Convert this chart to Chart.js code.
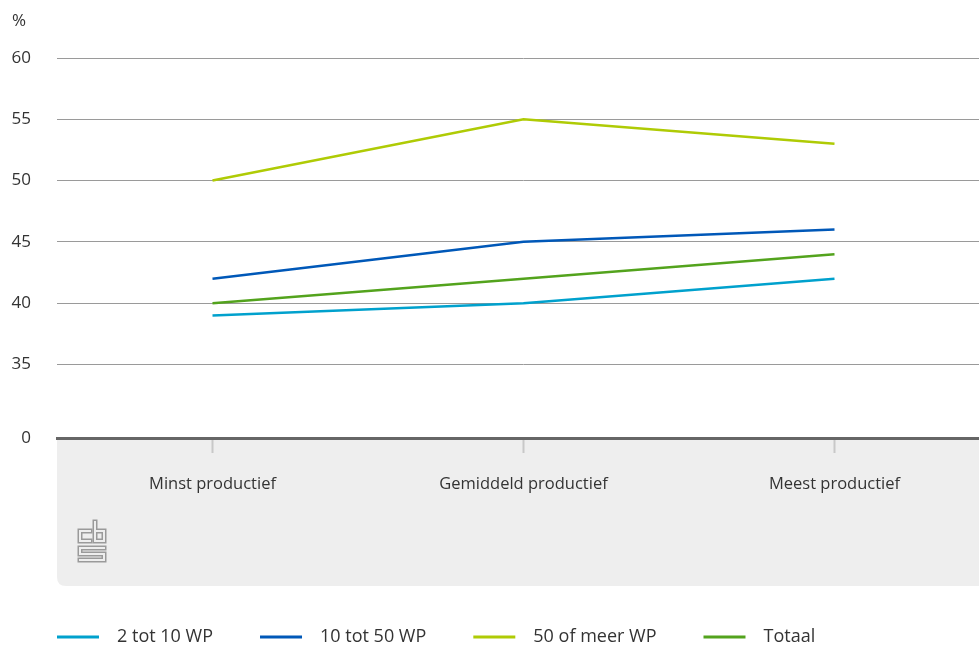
<!DOCTYPE html>
<html>
<head>
<meta charset="utf-8">
<script src="https://cdn.jsdelivr.net/npm/chart.js@4.4.0/dist/chart.umd.min.js"></script>
<style>
  html, body { margin: 0; padding: 0; background: #fff; overflow: hidden; }
  #wrap { width: 990px; height: 645px; position: relative; }
</style>
</head>
<body>
<div id="wrap"><canvas id="chart"></canvas></div>
<script>
// data
const categories = ['Minst productief', 'Gemiddeld productief', 'Meest productief'];
const seriesNames = ['2 tot 10 WP', '10 tot 50 WP', '50 of meer WP', 'Totaal'];
const small = [39, 40, 42];
const medium = [42, 45, 46];
const large = [50, 55, 53];
const total = [40, 42, 44];
const yTicks = [35, 40, 45, 50, 55, 60];
const yBreak = 29; // value where the axis is cut, shown as 0

const colors = ['#00a1cd', '#0058b8', '#afcb05', '#53a31d'];
const FONT = '"Open Sans", "Noto Sans", sans-serif';

// outlined stroke: thick grey, then hollowed out with the band colour
function outlined(ctx, pts) {
  [[5, '#9a9a9a'], [2, '#eeeeee']].forEach(([w, c]) => {
    ctx.lineWidth = w;
    ctx.strokeStyle = c;
    ctx.lineCap = 'square';
    ctx.lineJoin = 'miter';
    ctx.beginPath();
    pts.forEach((p, i) => (i ? ctx.lineTo(p[0], p[1]) : ctx.moveTo(p[0], p[1])));
    ctx.stroke();
  });
}

// grey band under the axis plus the cbs logo, and the % unit
const backdrop = {
  id: 'backdrop',
  beforeDraw(chart) {
    const ctx = chart.ctx;
    const left = chart.chartArea.left;
    const top = chart.chartArea.bottom;
    const bottom = 586;
    const right = chart.width;
    const r = 9;
    ctx.save();
    ctx.fillStyle = '#eeeeee';
    ctx.beginPath();
    ctx.moveTo(left, top);
    ctx.lineTo(right, top);
    ctx.lineTo(right, bottom);
    ctx.lineTo(left + r, bottom);
    ctx.quadraticCurveTo(left, bottom, left, bottom - r);
    ctx.closePath();
    ctx.fill();

    // logo: c, b and the s below
    outlined(ctx, [[90, 531], [80, 531], [80, 541], [90, 541]]);
    outlined(ctx, [[95, 522], [95, 541], [104, 541], [104, 531], [95, 531]]);
    outlined(ctx, [[104, 548], [80, 548], [80, 554], [104, 554], [104, 560], [80, 560]]);

    ctx.fillStyle = '#333';
    ctx.font = '17px ' + FONT;
    ctx.textAlign = 'left';
    ctx.textBaseline = 'middle';
    ctx.fillText('%', 12, 21);
    ctx.restore();
  },
  afterDraw(chart) {
    // legend: line sample, label, fixed gaps
    const ctx = chart.ctx;
    ctx.save();
    ctx.font = '18px ' + FONT;
    ctx.textBaseline = 'middle';
    ctx.textAlign = 'left';
    let x = 57;
    const y = 637;
    chart.data.datasets.forEach(ds => {
      ctx.strokeStyle = ds.borderColor;
      ctx.lineWidth = 3;
      ctx.beginPath();
      ctx.moveTo(x, y);
      ctx.lineTo(x + 42, y);
      ctx.stroke();
      x += 42 + 18;
      ctx.fillStyle = '#333';
      ctx.fillText(ds.label, x, y);
      x += ctx.measureText(ds.label).width + 47;
    });
    ctx.restore();
  }
};

const seriesData = [small, medium, large, total];

new Chart(document.getElementById('chart'), {
  type: 'line',
  data: {
    labels: categories,
    datasets: seriesNames.map((name, i) => ({
      label: name,
      data: seriesData[i],
      borderColor: colors[i],
      backgroundColor: colors[i],
      borderWidth: 2.5,
      pointRadius: 0,
      tension: 0
    }))
  },
  options: {
    responsive: true,
    maintainAspectRatio: false,
    animation: false,
    layout: { padding: { top: 58, right: 0, bottom: 0, left: 0 } },
    plugins: {
      legend: { display: false },
      tooltip: { enabled: false }
    },
    scales: {
      x: {
        offset: true,
        afterFit: s => { s.height = 207; },
        grid: {
          offset: false,
          drawOnChartArea: false,
          drawTicks: true,
          tickLength: 15,
          tickColor: '#c8c8c8',
          tickWidth: 2
        },
        border: { display: true, color: '#666', width: 3 },
        ticks: {
          color: '#333',
          padding: 21,
          maxRotation: 0,
          font: { family: FONT, size: 16.5 }
        }
      },
      y: {
        min: yBreak,
        max: 60,
        afterFit: s => { s.width = 57; },
        afterBuildTicks: s => {
          s.ticks = [yBreak].concat(yTicks).map(v => ({ value: v }));
        },
        grid: { color: '#9a9a9a', lineWidth: 1, drawTicks: false },
        border: { display: false },
        ticks: {
          color: '#333',
          padding: 26,
          font: { family: FONT, size: 17 },
          callback: v => (v === yBreak ? '0' : v)
        }
      }
    }
  },
  plugins: [backdrop]
});
</script>
</body>
</html>
